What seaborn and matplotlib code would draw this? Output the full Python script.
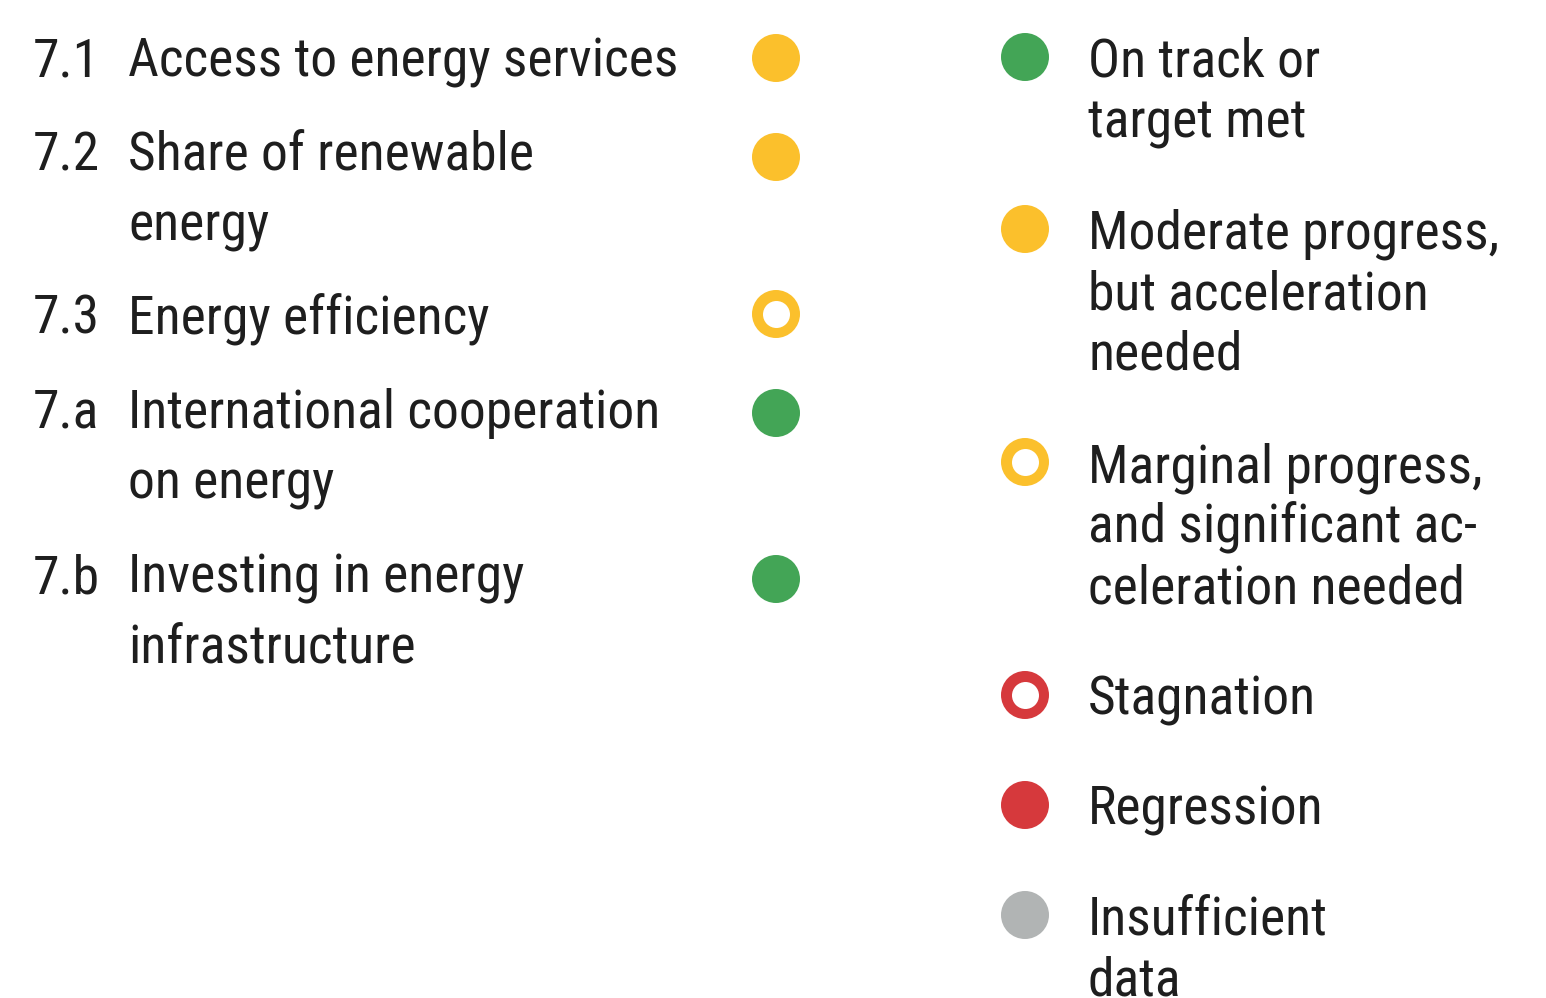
import matplotlib
matplotlib.use("Agg")
import matplotlib.pyplot as plt
import seaborn as sns
import pandas as pd

# ---- data ----
target_codes = ["7.1", "7.2", "7.3", "7.a", "7.b"]
target_labels = [
    ["Access to energy services"],
    ["Share of renewable", "energy"],
    ["Energy efficiency"],
    ["International cooperation", "on energy"],
    ["Investing in energy", "infrastructure"],
]
target_status = ["moderate", "moderate", "marginal", "on_track", "on_track"]

legend_status = ["on_track", "moderate", "marginal", "stagnation", "regression", "insufficient"]
legend_labels = [
    ["On track or", "target met"],
    ["Moderate progress,", "but acceleration", "needed"],
    ["Marginal progress,", "and significant ac-", "celeration needed"],
    ["Stagnation"],
    ["Regression"],
    ["Insufficient", "data"],
]

status_color = {
    "on_track": "#43A556",
    "moderate": "#FBC02C",
    "marginal": "#FBC02C",
    "stagnation": "#D6393C",
    "regression": "#D6393C",
    "insufficient": "#B1B4B4",
}
hollow = {"marginal", "stagnation"}

# ---- layout (pixels) ----
W, H = 1546, 998
fig = plt.figure(figsize=(W / 100, H / 100), dpi=100)
ax = fig.add_axes([0, 0, 1, 1])

FONT = ["Roboto Condensed", "DejaVu Sans"]
FS = 38.5
TXT = "#1e1e1e"

left_first_baselines = [76, 170, 334, 428, 593]
left_line_gap = 70
left_dot_y = [58, 157, 314, 413, 579]
left_dot_x = 776

legend_first_baselines = [76, 248, 482, 715, 825, 935]
legend_line_gap = 61
legend_dot_y = [57, 229, 462, 695, 805, 915]
legend_dot_x = 1025

dots = pd.DataFrame({
    "x": [left_dot_x] * len(target_status) + [legend_dot_x] * len(legend_status),
    "y": left_dot_y + legend_dot_y,
    "status": target_status + legend_status,
})

outer_pt = 48 * 0.72
inner_pt = 27 * 0.72
sns.scatterplot(data=dots, x="x", y="y", hue="status", palette=status_color,
                s=outer_pt ** 2, linewidth=0, legend=False, ax=ax, zorder=3)
holes = dots[dots["status"].isin(hollow)]
sns.scatterplot(data=holes, x="x", y="y", color="white",
                s=inner_pt ** 2, linewidth=0, legend=False, ax=ax, zorder=4)

for code, lines, b in zip(target_codes, target_labels, left_first_baselines):
    ax.text(33, b, code, fontsize=FS, family=FONT, color=TXT, va="baseline", ha="left")
    for i, ln in enumerate(lines):
        ax.text(128, b + i * left_line_gap, ln, fontsize=FS, family=FONT, color=TXT,
                va="baseline", ha="left")

for lines, b in zip(legend_labels, legend_first_baselines):
    for i, ln in enumerate(lines):
        ax.text(1088, b + i * legend_line_gap, ln, fontsize=FS, family=FONT, color=TXT,
                va="baseline", ha="left")

ax.set_xlim(0, W)
ax.set_ylim(H, 0)
ax.axis("off")
fig.savefig("out.png", dpi=100, facecolor="white")
